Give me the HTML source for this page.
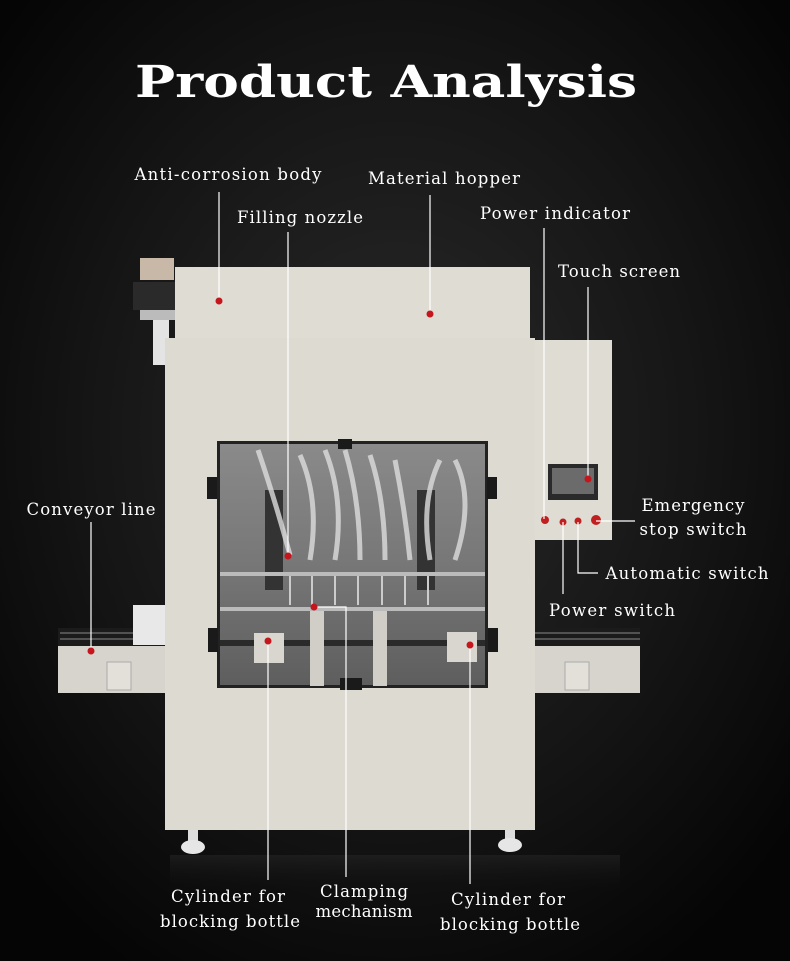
<!DOCTYPE html>
<html><head><meta charset="utf-8"><style>
html,body{margin:0;padding:0;background:#000}
svg{display:block}
text{font-family:"DejaVu Serif","Liberation Serif",serif;fill:#fff}
</style></head><body>
<svg width="790" height="961" viewBox="0 0 790 961" xmlns="http://www.w3.org/2000/svg">
<defs>
<radialGradient id="bg" cx="0.5" cy="0.45" r="0.65">
<stop offset="0" stop-color="#2a2a2a"/><stop offset="0.6" stop-color="#151515"/><stop offset="1" stop-color="#050505"/>
</radialGradient>
<linearGradient id="win" x1="0" y1="0" x2="0" y2="1">
<stop offset="0" stop-color="#8a8a8a"/><stop offset="0.5" stop-color="#777"/><stop offset="1" stop-color="#5e5e5e"/>
</linearGradient>
<linearGradient id="floor" x1="0" y1="0" x2="0" y2="1">
<stop offset="0" stop-color="#252525"/><stop offset="1" stop-color="#0c0c0c" stop-opacity="0"/>
</linearGradient>
</defs>
<rect width="790" height="961" fill="url(#bg)"/>
<rect x="170" y="855" width="450" height="40" fill="url(#floor)" opacity="0.6"/>

<text x="386" y="97" text-anchor="middle" font-size="44" font-weight="bold" textLength="502" lengthAdjust="spacingAndGlyphs">Product Analysis</text>

<!-- conveyors -->
<rect x="58" y="645" width="112" height="48" fill="#d6d4cc"/>
<rect x="535" y="645" width="105" height="48" fill="#d6d4cc"/>
<rect x="58" y="628" width="112" height="18" fill="#1b1b1b"/>
<rect x="535" y="628" width="105" height="18" fill="#1b1b1b"/>
<g stroke="#888" stroke-width="1"><line x1="60" y1="633" x2="170" y2="633"/><line x1="60" y1="639" x2="170" y2="639"/><line x1="535" y1="633" x2="640" y2="633"/><line x1="535" y1="639" x2="640" y2="639"/></g>
<rect x="107" y="662" width="24" height="28" fill="#e2e0d8" stroke="#aaa"/>
<rect x="565" y="662" width="24" height="28" fill="#e2e0d8" stroke="#aaa"/>
<rect x="133" y="605" width="36" height="40" fill="#e8e8e8"/>

<!-- valve -->
<rect x="140" y="258" width="34" height="22" fill="#c8b8a8"/>
<rect x="133" y="282" width="42" height="28" fill="#2a2a2a"/>
<rect x="140" y="310" width="35" height="10" fill="#bbb"/>
<rect x="153" y="320" width="16" height="45" fill="#e4e4e4"/>

<rect x="175" y="267" width="355" height="75" fill="#dedcd3"/>
<rect x="165" y="338" width="370" height="492" fill="#dcdad1"/>
<rect x="535" y="340" width="77" height="200" fill="#dedcd3"/>
<rect x="548" y="464" width="50" height="36" fill="#2a2a2a"/>
<rect x="552" y="468" width="42" height="26" fill="#6b6b6b"/>
<g fill="#c02020"><circle cx="545" cy="520" r="4"/><circle cx="563" cy="522" r="3.5"/><circle cx="578" cy="521" r="3.5"/><circle cx="596" cy="520" r="5"/></g>

<rect x="217" y="441" width="271" height="247" fill="#222"/>
<rect x="220" y="444" width="265" height="241" fill="url(#win)"/>
<rect x="265" y="490" width="18" height="100" fill="#333"/>
<rect x="417" y="490" width="18" height="100" fill="#333"/>
<rect x="220" y="572" width="265" height="4" fill="#bbb"/>
<rect x="220" y="607" width="265" height="4" fill="#bbb"/>
<rect x="220" y="640" width="265" height="6" fill="#2a2a2a"/>
<g stroke="#ddd" stroke-width="5" fill="none" opacity="0.8">
<path d="M258 450 Q275 500 290 555"/><path d="M300 455 Q320 500 310 560"/><path d="M325 450 Q345 500 335 560"/><path d="M345 450 Q360 500 360 560"/><path d="M370 455 Q385 500 385 560"/><path d="M395 460 Q405 510 410 560"/><path d="M440 460 Q420 500 430 560"/><path d="M455 460 Q475 500 455 560"/>
</g>
<g stroke="#ccc" stroke-width="2"><line x1="290" y1="576" x2="290" y2="605"/><line x1="312" y1="576" x2="312" y2="605"/><line x1="335" y1="576" x2="335" y2="605"/><line x1="358" y1="576" x2="358" y2="605"/><line x1="382" y1="576" x2="382" y2="605"/><line x1="405" y1="576" x2="405" y2="605"/><line x1="428" y1="576" x2="428" y2="605"/></g>
<rect x="310" y="611" width="14" height="75" fill="#d0cec6"/>
<rect x="373" y="611" width="14" height="75" fill="#d0cec6"/>
<rect x="254" y="633" width="30" height="30" fill="#d8d6ce"/>
<rect x="447" y="632" width="30" height="30" fill="#d8d6ce"/>
<g fill="#1a1a1a"><rect x="207" y="477" width="10" height="22"/><rect x="487" y="477" width="10" height="22"/><rect x="208" y="628" width="10" height="24"/><rect x="488" y="628" width="10" height="24"/><rect x="338" y="439" width="14" height="10"/><rect x="340" y="678" width="22" height="12"/></g>

<rect x="188" y="830" width="10" height="14" fill="#ddd"/><ellipse cx="193" cy="847" rx="12" ry="7" fill="#e6e6e6"/>
<rect x="505" y="830" width="10" height="14" fill="#ddd"/><ellipse cx="510" cy="845" rx="12" ry="7" fill="#e6e6e6"/>

<g stroke="#fff" stroke-width="1.2" fill="none">
<line x1="219" y1="192" x2="219" y2="301"/>
<line x1="430" y1="195" x2="430" y2="314"/>
<line x1="288" y1="232" x2="288" y2="556"/>
<line x1="544" y1="228" x2="544" y2="519"/>
<line x1="588" y1="287" x2="588" y2="479"/>
<line x1="596" y1="521" x2="635" y2="521"/>
<polyline points="578,522 578,573 598,573"/>
<line x1="563" y1="522" x2="563" y2="594"/>
<line x1="91" y1="522" x2="91" y2="651"/>
<line x1="268" y1="641" x2="268" y2="880"/>
<polyline points="314,607 346,607 346,877"/>
<line x1="470" y1="645" x2="470" y2="884"/>
</g>
<g fill="#c4161c">
<circle cx="219" cy="301" r="3.5"/><circle cx="430" cy="314" r="3.5"/><circle cx="288" cy="556" r="3.5"/><circle cx="588" cy="479" r="3.5"/><circle cx="91" cy="651" r="3.5"/><circle cx="268" cy="641" r="3.5"/><circle cx="314" cy="607" r="3.5"/><circle cx="470" cy="645" r="3.5"/>
</g>

<g font-size="16.5">
<text x="228" y="180" text-anchor="middle" textLength="187">Anti-corrosion body</text>
<text x="444" y="184" text-anchor="middle" textLength="152">Material hopper</text>
<text x="300" y="223" text-anchor="middle" textLength="126">Filling nozzle</text>
<text x="555" y="219" text-anchor="middle" textLength="150">Power indicator</text>
<text x="619" y="277" text-anchor="middle" textLength="122">Touch screen</text>
<text x="693" y="511" text-anchor="middle" textLength="103">Emergency</text>
<text x="693" y="535" text-anchor="middle" textLength="107">stop switch</text>
<text x="687" y="579" text-anchor="middle" textLength="163">Automatic switch</text>
<text x="612" y="616" text-anchor="middle" textLength="126">Power switch</text>
<text x="91" y="515" text-anchor="middle" textLength="129">Conveyor line</text>
<text x="228" y="902" text-anchor="middle" textLength="114">Cylinder for</text>
<text x="230" y="927" text-anchor="middle" textLength="140">blocking bottle</text>
<text x="364" y="897" text-anchor="middle" textLength="88">Clamping</text>
<text x="364" y="917" text-anchor="middle" textLength="97">mechanism</text>
<text x="508" y="905" text-anchor="middle" textLength="114">Cylinder for</text>
<text x="510" y="930" text-anchor="middle" textLength="140">blocking bottle</text>
</g>
</svg>
</body></html>
